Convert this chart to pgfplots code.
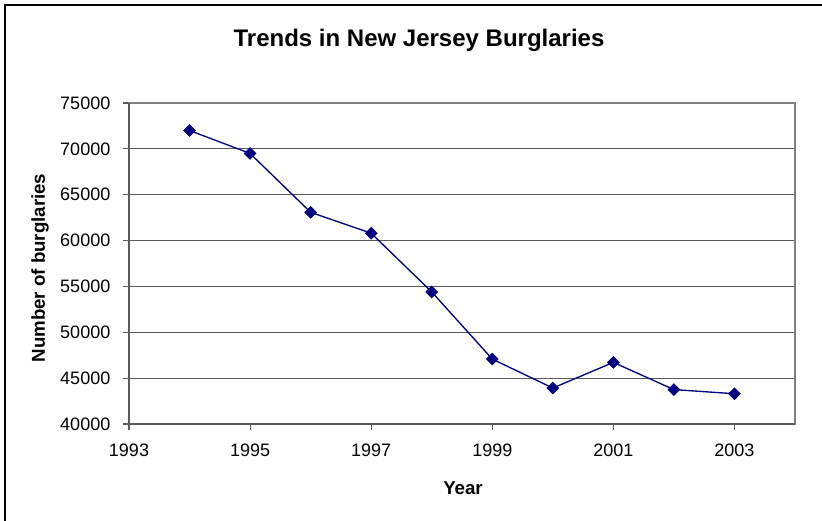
\documentclass[border=0pt]{standalone}
\usepackage{pgfplots}
\pgfplotsset{compat=1.18}
\usepackage{fontspec}
\setmainfont{Liberation Sans}
\definecolor{navyline}{RGB}{0,0,128}
\definecolor{gridc}{RGB}{90,90,90}
\begin{document}
\begin{tikzpicture}
\useasboundingbox (0,0) rectangle (616.5pt,390.75pt);
\draw[line width=1.5pt] (3.75pt,0pt) -- (3.75pt,387pt) -- (616.5pt,387pt);
\begin{axis}[
  at={(96.75pt,72.75pt)}, anchor=south west,
  scale only axis, width=499.5pt, height=240.75pt,
  xmin=1993, xmax=2004, ymin=40000, ymax=75000,
  xtick={1993,1995,1997,1999,2001,2003},
  ytick={40000,45000,50000,55000,60000,65000,70000,75000},
  scaled y ticks=false, scaled x ticks=false,
  xtick pos=bottom, ytick pos=left,
  /pgf/number format/assume math mode=true,
  /pgf/number format/set thousands separator={},
  tick label style={font=\fontsize{13.5}{15}\selectfont, black},
  xticklabel style={yshift=-7pt},
  yticklabel style={xshift=-6pt},
  tick align=outside, major tick length=4.5pt,
  tick style={gridc, line width=0.8pt},
  axis line style={gray, line width=0.8pt},
  ymajorgrids, grid style={gridc, line width=0.7pt},
  clip=false,
]
\addplot[navyline, line width=1pt, mark=square*, mark size=2.9pt, mark options={fill=navyline, draw=navyline, rotate=45}]
coordinates {
(1994,72000) (1995,69500) (1996,63080) (1997,60800) (1998,54400)
(1999,47080) (2000,43920) (2001,46720) (2002,43750) (2003,43300)
};
\draw[gridc, line width=1.2pt] (rel axis cs:0,1) -- (rel axis cs:0,0) -- (rel axis cs:1,0);
\end{axis}
\node[font=\fontsize{18}{20}\selectfont\bfseries] at (314.25pt,360.75pt) {Trends in New Jersey Burglaries};
\node[font=\fontsize{14}{16}\selectfont\bfseries, rotate=90] at (30pt,189.75pt) {Number of burglaries};
\node[font=\fontsize{14}{16}\selectfont\bfseries] at (347.25pt,24.75pt) {Year};
\end{tikzpicture}
\end{document}
